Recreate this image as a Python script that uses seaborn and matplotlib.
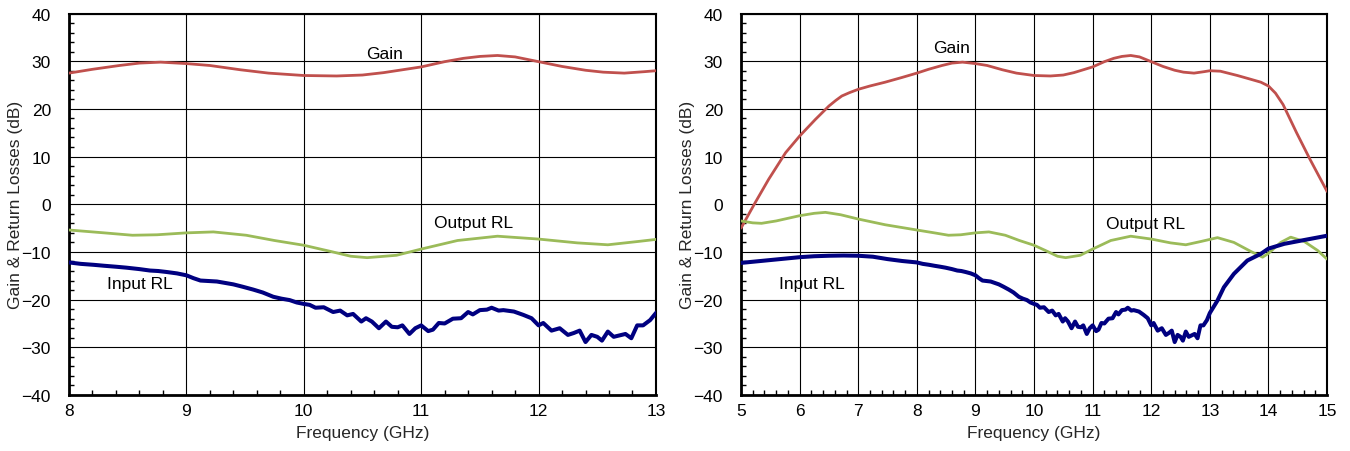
import matplotlib
matplotlib.use("Agg")
import matplotlib.pyplot as plt
from matplotlib.ticker import MultipleLocator
import seaborn as sns
import pandas as pd

# Gain (dB) vs frequency (GHz)
gain_freq = [5.0, 5.24, 5.47, 5.76, 6.0, 6.27, 6.5, 6.62, 6.72, 6.85, 7.0, 7.2, 7.46, 7.75, 8.0,
             8.2, 8.43, 8.6, 8.78, 9.0, 9.2, 9.46, 9.7, 10.0, 10.28, 10.5, 10.68, 11.0, 11.2,
             11.36, 11.5, 11.65, 11.8, 12.0, 12.2, 12.4, 12.55, 12.73, 12.9, 13.0, 13.18,
             13.47, 13.7, 13.87, 14.0, 14.12, 14.25, 14.48, 14.71, 15.0]
gain_db = [-5.0, 0.3, 5.2, 10.8, 14.3, 17.8, 20.6, 21.8, 22.7, 23.4, 24.1, 24.8, 25.6, 26.6, 27.5,
           28.3, 29.1, 29.6, 29.8, 29.5, 29.1, 28.2, 27.5, 27.0, 26.9, 27.1, 27.6, 28.8, 29.9,
           30.6, 31.0, 31.2, 30.9, 29.9, 28.9, 28.1, 27.7, 27.5, 27.8, 28.0, 27.9,
           27.0, 26.2, 25.6, 24.8, 23.3, 20.9, 15.0, 9.4, 2.7]

# Output return loss (dB)
out_freq = [5.0, 5.2, 5.35, 5.6, 6.0, 6.25, 6.44, 6.7, 7.0, 7.46, 8.0, 8.3, 8.54, 8.75, 9.0,
            9.23, 9.51, 9.75, 10.0, 10.23, 10.4, 10.54, 10.79, 11.0, 11.31, 11.65, 12.0,
            12.33, 12.59, 12.85, 13.13, 13.41, 13.7, 13.9, 14.0, 14.21, 14.38, 14.61,
            14.84, 15.0]
out_db = [-3.5, -3.9, -4.0, -3.5, -2.4, -1.9, -1.7, -2.2, -3.1, -4.3, -5.4, -6.0, -6.5, -6.4,
          -6.0, -5.8, -6.5, -7.6, -8.6, -9.9, -10.9, -11.2, -10.7, -9.4, -7.6, -6.7, -7.3,
          -8.1, -8.5, -7.8, -7.0, -8.0, -9.9, -11.1, -10.3, -8.0, -6.9, -7.8,
          -9.7, -11.5]

# Input return loss (dB)
in_freq = [5.0, 5.25, 5.5, 5.75, 6.0, 6.25, 6.5, 6.75, 7.0, 7.25, 7.5, 7.75, 8.0,
           8.1, 8.21, 8.3, 8.4, 8.49, 8.6, 8.69, 8.76, 8.83, 8.92, 9.0, 9.06, 9.12, 9.19,
           9.26, 9.33, 9.4, 9.48, 9.57, 9.65, 9.74, 9.81, 9.88, 9.94, 10.0, 10.05, 10.1,
           10.17, 10.25, 10.31, 10.37, 10.42, 10.49, 10.53, 10.58, 10.64, 10.7, 10.75,
           10.8, 10.84, 10.9, 10.95, 11.0, 11.06, 11.1, 11.15, 11.2, 11.27, 11.34, 11.4,
           11.44, 11.5, 11.56, 11.6, 11.66, 11.7, 11.79, 11.87, 11.94, 12.0, 12.04, 12.11,
           12.18, 12.25, 12.3, 12.35, 12.4, 12.45, 12.5, 12.54, 12.59, 12.64, 12.69, 12.74,
           12.79, 12.84, 12.89, 12.95, 13.0, 13.13, 13.24, 13.41, 13.64, 13.87, 14.0,
           14.27, 14.61, 15.0]
in_db = [-12.3, -12.0, -11.7, -11.4, -11.1, -10.9, -10.8, -10.75, -10.8, -11.0, -11.5, -11.9, -12.2,
         -12.5, -12.7, -12.9, -13.1, -13.3, -13.6, -13.9, -14.0, -14.2, -14.5, -14.9, -15.5, -16.0, -16.1,
         -16.2, -16.5, -16.8, -17.3, -17.9, -18.5, -19.4, -19.8, -20.1, -20.6, -20.9, -21.1, -21.7,
         -21.6, -22.6, -22.3, -23.3, -23.0, -24.6, -23.9, -24.6, -26.0, -24.6, -25.7,
         -25.8, -25.4, -27.2, -26.0, -25.4, -26.6, -26.3, -24.9, -25.0, -24.0, -23.9, -22.6,
         -23.1, -22.2, -22.1, -21.7, -22.3, -22.2, -22.5, -23.2, -23.9, -25.4, -24.9, -26.5,
         -26.0, -27.4, -27.0, -26.5, -28.9, -27.4, -27.8, -28.6, -26.7, -27.8, -27.5, -27.2,
         -28.1, -25.4, -25.4, -24.3, -22.8, -20.2, -17.4, -14.6, -11.8, -10.4, -9.3,
         -8.3, -7.5, -6.6]

df = pd.concat([
    pd.DataFrame({"Frequency": gain_freq, "dB": gain_db, "Trace": "Gain"}),
    pd.DataFrame({"Frequency": out_freq, "dB": out_db, "Trace": "Output RL"}),
    pd.DataFrame({"Frequency": in_freq, "dB": in_db, "Trace": "Input RL"}),
])

palette = {"Gain": "#C0504D", "Output RL": "#9BBB59", "Input RL": "#000080"}
widths = {"Gain": 2.0, "Output RL": 2.0, "Input RL": 2.9}

sns.set_theme(style="white")
plt.rcParams['font.family'] = ['Liberation Sans', 'DejaVu Sans']

fig = plt.figure(figsize=(13.5, 4.52), dpi=100)
ax1 = fig.add_axes([0.0511, 0.1239, 0.4348, 0.8440])
ax2 = fig.add_axes([0.5489, 0.1239, 0.4341, 0.8440])

# panel settings: x range, label positions (f, dB)
panels = [
    (ax1, 8, 13, {"Gain": (10.69, 31.6), "Output RL": (11.45, -3.9), "Input RL": (8.6, -16.7)}),
    (ax2, 5, 15, {"Gain": (8.6, 32.9), "Output RL": (11.91, -4.1), "Input RL": (6.21, -16.7)}),
]

fs = 12.5
for ax, x0, x1, labels in panels:
    for trace in ["Gain", "Output RL", "Input RL"]:
        sub = df[df["Trace"] == trace]
        sub = sub[(sub["Frequency"] >= x0 - 0.5) & (sub["Frequency"] <= x1 + 0.5)]
        sns.lineplot(data=sub, x="Frequency", y="dB", color=palette[trace],
                     lw=widths[trace], ax=ax, legend=False, zorder=3)
        tx, ty = labels[trace]
        ax.text(tx, ty, trace, ha="center", va="center", fontsize=fs, color="black", zorder=4)

    ax.set_xlim(x0, x1)
    ax.set_ylim(-40, 40)
    ax.xaxis.set_major_locator(MultipleLocator(1))
    ax.xaxis.set_minor_locator(MultipleLocator(0.2))
    ax.yaxis.set_major_locator(MultipleLocator(10))
    ax.yaxis.set_minor_locator(MultipleLocator(2))
    ax.grid(True, which="major", color="black", lw=0.8)
    ax.set_axisbelow(True)

    ax.tick_params(which="major", length=0, labelsize=fs, colors="black")
    ax.tick_params(axis="x", which="major", pad=6)
    ax.tick_params(axis="y", which="major", pad=13)
    ax.tick_params(which="minor", direction="in", length=3.5, width=1.0,
                   left=True, bottom=True, color="black")

    for side in ["left", "bottom"]:
        ax.spines[side].set_linewidth(2.0)
    for side in ["top", "right"]:
        ax.spines[side].set_linewidth(1.5)
    for sp in ax.spines.values():
        sp.set_color("black")
        sp.set_visible(True)

    ax.set_xlabel("Frequency (GHz)", fontsize=fs)
    ax.set_ylabel("Gain & Return Losses (dB)", fontsize=fs)
    ax.xaxis.set_label_coords(0.5, -0.078)
    ax.yaxis.set_label_coords(-0.079, 0.5)

plt.savefig("out.png", dpi=100)
